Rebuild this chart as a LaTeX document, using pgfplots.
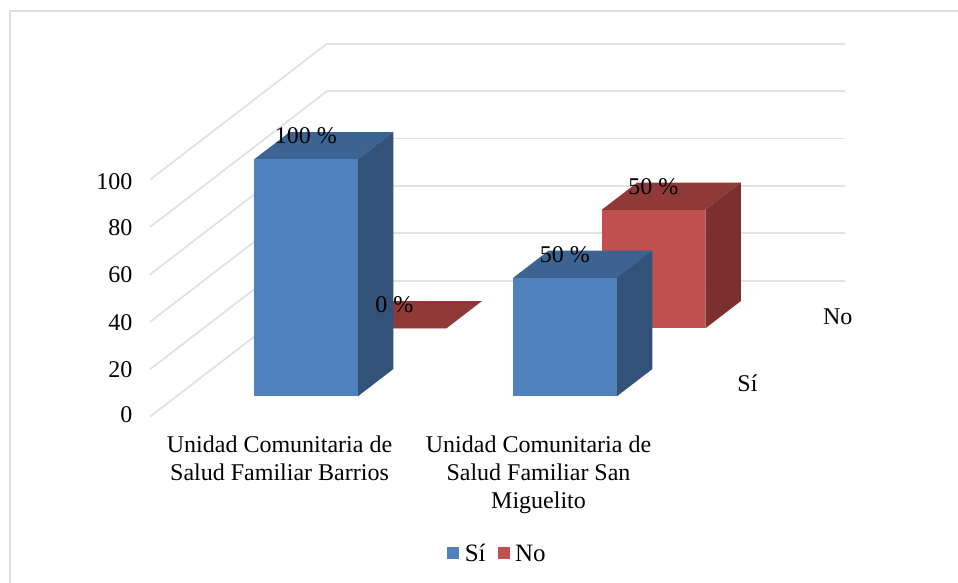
\documentclass[border=0pt]{standalone}
\usepackage{pgfplots}
\pgfplotsset{compat=1.18}
\usepackage{fontspec}
\setmainfont{Liberation Serif}
\definecolor{siF}{HTML}{4F81BD}
\definecolor{siS}{HTML}{32527A}
\definecolor{siT}{HTML}{3C6391}
\definecolor{noF}{HTML}{C0504D}
\definecolor{noS}{HTML}{7B302E}
\definecolor{noT}{HTML}{8F3A38}
\definecolor{gridc}{HTML}{E2E2E2}
\definecolor{framec}{HTML}{DEDEDE}
% x0 x1 y0 y1 value front side top
\newcommand{\barthreed}[8]{%
  \addplot3[fill=#8,draw=none,forget plot] coordinates {(#1,#3,#5)(#2,#3,#5)(#2,#4,#5)(#1,#4,#5)} --cycle;
  \addplot3[fill=#7,draw=none,forget plot] coordinates {(#2,#3,0)(#2,#4,0)(#2,#4,#5)(#2,#3,#5)} --cycle;
  \addplot3[fill=#6,draw=none,forget plot] coordinates {(#1,#3,0)(#2,#3,0)(#2,#3,#5)(#1,#3,#5)} --cycle;
}
\begin{document}
\begin{tikzpicture}[x=1pt,y=1pt]
\useasboundingbox (0,0) rectangle (958,583);
\fill[white] (0,0) rectangle (958,583);
\draw[framec,line width=2.5pt] (10,0) -- (10,571.8) -- (958,571.8);
\begin{axis}[
  at={(150pt,166.3pt)}, anchor=origin,
  x={(259pt,0pt)}, y={(88.5pt,68pt)}, z={(0pt,2.37pt)},
  xmin=0,xmax=2,ymin=0,ymax=2,zmin=0,zmax=100,
  clip=false,
  axis line style={draw=none},
  major tick length=0pt,
  xtick={0.5,1.5},
  xticklabels={{Unidad Comunitaria de\\Salud Familiar Barrios},{Unidad Comunitaria de\\Salud Familiar San\\Miguelito}},
  x tick label style={align=center,anchor=north,font=\fontsize{24pt}{28pt}\selectfont,yshift=-16pt},
  ytick={0.5,1.5},
  yticklabels={Sí,No},
  y tick label style={font=\fontsize{24pt}{28pt}\selectfont,xshift=22.5pt,yshift=12.5pt},
  ztick={0,20,40,60,80,100},
  z tick label style={font=\fontsize{24pt}{28pt}\selectfont,xshift=-14pt,yshift=5pt},
  /pgf/number format/assume math mode=true,
  zmajorgrids=true,
  grid style={gridc,line width=1.8pt},
  legend columns=2,
  legend style={draw=none,fill=none,font=\fontsize{25pt}{28pt}\selectfont,at={(0.5,-0.367)},anchor=center,
    /tikz/column 1/.style={column sep=3.5pt},
    /tikz/column 2/.style={column sep=10pt},
    /tikz/column 3/.style={column sep=3.5pt}},
  legend image code/.code={\fill[#1] (0pt,-5.5pt) rectangle (12pt,6.5pt);},
]
\barthreed{0.3}{0.7}{1.3}{1.7}{0}{noF}{noS}{noT}
\barthreed{1.3}{1.7}{1.3}{1.7}{50}{noF}{noS}{noT}
\barthreed{0.3}{0.7}{0.3}{0.7}{100}{siF}{siS}{siT}
\barthreed{1.3}{1.7}{0.3}{0.7}{50}{siF}{siS}{siT}
\addplot3[draw=none,mark=none,forget plot,point meta=z,
  nodes near coords={\pgfmathprintnumber{\pgfplotspointmeta} \%},
  nodes near coords style={anchor=center,font=\fontsize{24pt}{28pt}\selectfont,xshift=-18pt,yshift=10pt,text=black}]
  coordinates {(0.5,0.5,100)(1.5,0.5,50)(0.5,1.5,0)(1.5,1.5,50)};
\addlegendimage{fill=siF,draw=none}
\addlegendentry{Sí}
\addlegendimage{fill=noF,draw=none}
\addlegendentry{No}
\end{axis}
\end{tikzpicture}
\end{document}
